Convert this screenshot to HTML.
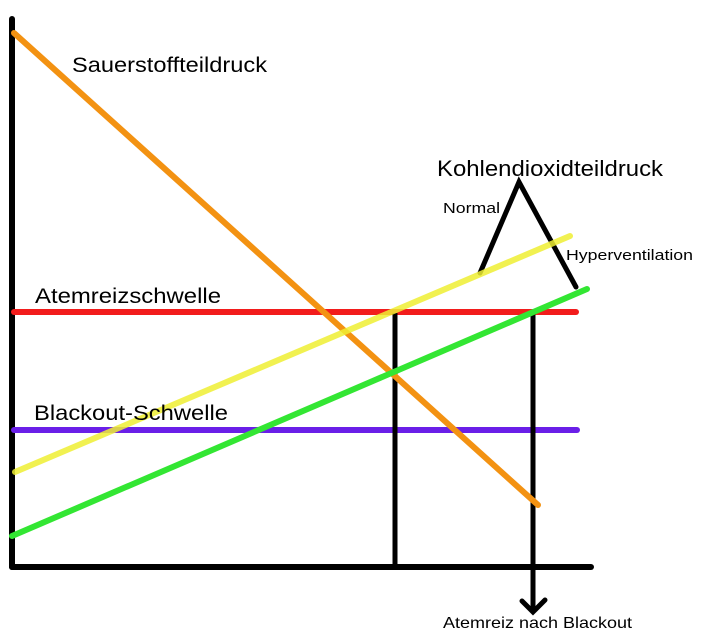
<!DOCTYPE html>
<html>
<head>
<meta charset="utf-8">
<style>
html,body{margin:0;padding:0;background:#fff;}
svg{display:block;}
text{font-family:"Liberation Sans",Arial,sans-serif;fill:#000;}
</style>
</head>
<body>
<svg width="702" height="638" viewBox="0 0 702 638" xmlns="http://www.w3.org/2000/svg">
  <rect width="702" height="638" fill="#fff"/>
  <!-- axes -->
  <line x1="12" y1="19" x2="12" y2="567" stroke="#000" stroke-width="6" stroke-linecap="round"/>
  <line x1="12" y1="567" x2="591" y2="567" stroke="#000" stroke-width="6" stroke-linecap="round"/>
  <!-- threshold lines -->
  <line x1="14" y1="312" x2="576" y2="312" stroke="#f21c1c" stroke-width="6" stroke-linecap="round"/>
  <line x1="14" y1="430" x2="577" y2="430" stroke="#6a1fe8" stroke-width="6" stroke-linecap="round"/>
  <!-- verticals -->
  <line x1="395" y1="313" x2="395" y2="567" stroke="#000" stroke-width="5"/>
  <line x1="533" y1="313" x2="533" y2="611" stroke="#000" stroke-width="5"/>
  <polyline points="522,601 533,612 545,600" fill="none" stroke="#000" stroke-width="5" stroke-linecap="round" stroke-linejoin="miter"/>
  <!-- orange -->
  <line x1="14" y1="33" x2="538" y2="505" stroke="#f39212" stroke-width="6" stroke-linecap="round"/>
  <!-- green -->
  <line x1="12" y1="536" x2="587" y2="289" stroke="#33e633" stroke-width="6" stroke-linecap="round"/>
  <!-- triangle -->
  <polyline points="480,273 519,182 576,287" fill="none" stroke="#000" stroke-width="5" stroke-linecap="round" stroke-linejoin="miter"/>
  <!-- yellow -->
  <line x1="15" y1="472" x2="570" y2="236" stroke="#eeee33" stroke-opacity="0.85" stroke-width="6" stroke-linecap="round"/>
  <!-- labels -->
  <text x="72" y="72" font-size="21" textLength="195" lengthAdjust="spacingAndGlyphs">Sauerstoffteildruck</text>
  <text x="437" y="176" font-size="22" textLength="226" lengthAdjust="spacingAndGlyphs">Kohlendioxidteildruck</text>
  <text x="443" y="213" font-size="15" textLength="57" lengthAdjust="spacingAndGlyphs">Normal</text>
  <text x="566" y="260" font-size="15" textLength="127" lengthAdjust="spacingAndGlyphs">Hyperventilation</text>
  <text x="35" y="303" font-size="21" textLength="186" lengthAdjust="spacingAndGlyphs">Atemreizschwelle</text>
  <text x="34" y="420" font-size="21" textLength="194" lengthAdjust="spacingAndGlyphs">Blackout-Schwelle</text>
  <text x="443" y="628" font-size="16" textLength="189" lengthAdjust="spacingAndGlyphs">Atemreiz nach Blackout</text>
</svg>
</body>
</html>
